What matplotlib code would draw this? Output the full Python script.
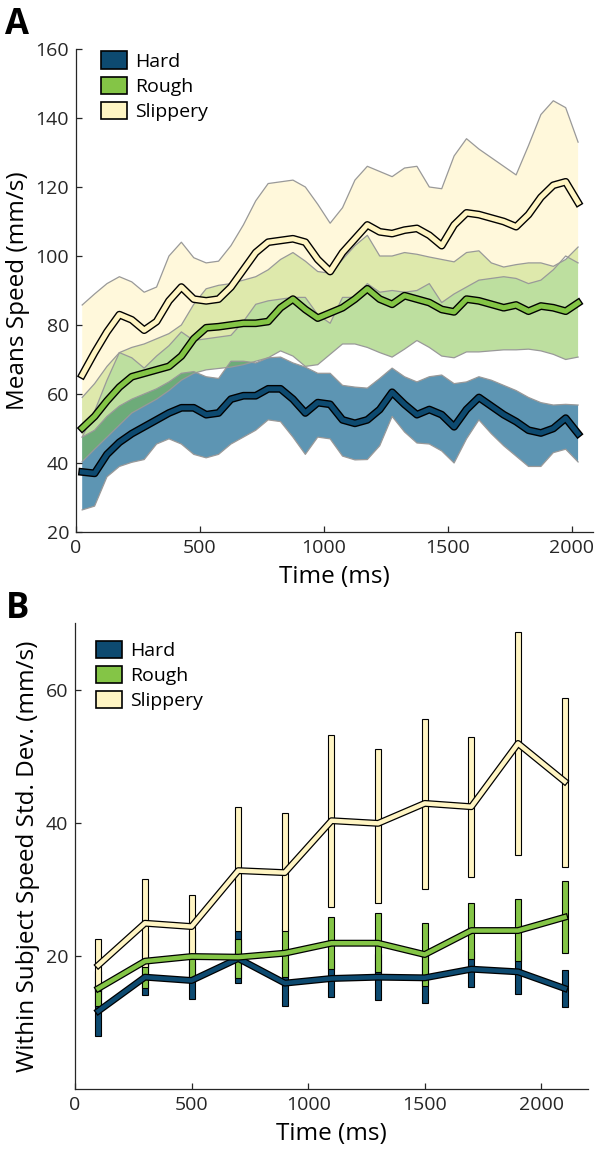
"""Speed per surface: mean speed over time (A) and within-subject SD (B)."""

import matplotlib.pyplot as plt
import matplotlib.patheffects as pe
from matplotlib.patches import Patch

plt.rcParams["font.family"] = ["Open Sans", "DejaVu Sans"]

# ---- panel A: mean speed time courses (mean, band lower, band upper) ----
time_a = [25, 75, 125, 175, 225, 275, 325, 375, 425, 475, 525, 575, 625, 675,
          725, 775, 825, 875, 925, 975, 1025, 1075, 1125, 1175, 1225, 1275,
          1325, 1375, 1425, 1475, 1525, 1575, 1625, 1675, 1725, 1775, 1825,
          1875, 1925, 1975, 2025]

hard_mean = [37.4, 37.0, 42.5, 46.0, 48.5, 50.5, 52.5, 54.5, 56.0, 56.0, 54.0,
             54.5, 58.5, 59.5, 59.5, 61.5, 61.5, 58.5, 54.5, 57.5, 57.0, 52.5,
             51.5, 52.5, 55.5, 60.5, 57.0, 54.0, 55.5, 54.0, 50.5, 55.5, 59.0,
             56.5, 54.0, 52.0, 49.5, 48.7, 50.0, 53.0, 48.5]
hard_lo = [26.4, 27.5, 36.0, 39.0, 40.2, 41.0, 45.5, 47.0, 45.5, 42.5, 41.5,
           42.5, 45.5, 47.5, 49.5, 52.5, 52.0, 47.5, 42.5, 47.5, 47.0, 42.0,
           40.9, 41.0, 45.0, 53.5, 49.0, 45.8, 45.5, 43.5, 40.0, 47.0, 52.5,
           48.5, 45.0, 42.0, 39.0, 39.0, 43.0, 44.0, 40.3]
hard_hi = [47.5, 49.5, 53.5, 56.5, 58.5, 60.0, 61.5, 63.5, 66.0, 66.5, 65.0,
           64.5, 69.5, 69.5, 69.0, 70.5, 70.7, 69.0, 67.8, 66.0, 66.0, 62.5,
           62.0, 61.7, 64.5, 67.5, 65.0, 63.5, 65.0, 65.5, 63.0, 63.5, 65.0,
           64.0, 62.5, 61.0, 59.0, 57.5, 56.8, 57.0, 56.8]

rough_mean = [50.1, 53.5, 58.0, 62.0, 65.0, 66.0, 67.0, 68.0, 71.0, 76.0, 79.2,
              79.5, 80.0, 80.5, 80.5, 81.0, 85.0, 87.5, 84.5, 82.0, 83.5, 85.0,
              87.5, 90.5, 87.5, 86.0, 88.5, 87.5, 86.5, 84.5, 83.8, 87.5, 87.0,
              86.0, 85.0, 85.8, 84.0, 85.5, 85.0, 84.0, 86.4]
rough_lo = [40.4, 44.0, 47.5, 51.0, 54.5, 56.5, 58.5, 61.0, 64.0, 66.0, 67.0,
            67.4, 67.8, 68.5, 69.5, 70.5, 72.5, 71.0, 68.0, 68.5, 71.5, 74.5,
            74.5, 73.5, 72.0, 70.7, 73.0, 75.5, 73.5, 71.0, 70.5, 72.2, 72.2,
            72.5, 72.8, 72.8, 73.0, 72.5, 71.5, 70.0, 70.7]
rough_hi = [59.0, 63.0, 68.0, 72.0, 73.5, 74.5, 76.0, 77.5, 80.0, 86.0, 90.5,
            91.5, 92.0, 93.0, 94.0, 96.0, 99.0, 101.0, 98.5, 95.5, 95.0, 99.0,
            103.0, 106.0, 100.0, 100.0, 101.0, 100.5, 99.7, 99.0, 98.3, 101.0,
            101.5, 98.0, 96.8, 97.5, 98.0, 98.0, 97.0, 99.0, 102.6]

slip_mean = [65.5, 72.0, 78.0, 83.0, 81.5, 78.5, 81.0, 87.0, 91.0, 87.5, 87.0,
             87.5, 91.0, 96.0, 101.0, 104.0, 104.5, 105.0, 104.0, 99.0, 95.5,
             101.0, 105.0, 109.0, 107.0, 106.5, 107.5, 108.0, 106.0, 103.0,
             109.0, 112.5, 112.0, 111.0, 110.0, 108.5, 112.0, 117.0, 120.5,
             121.5, 115.5]
slip_lo = [47.5, 55.0, 64.0, 72.0, 70.5, 67.5, 71.0, 74.0, 78.0, 75.5, 76.0,
           76.5, 77.0, 81.0, 86.0, 87.0, 87.5, 88.0, 88.0, 83.0, 80.5, 88.0,
           88.0, 92.0, 89.5, 90.0, 89.5, 90.0, 92.0, 86.5, 89.0, 91.0, 93.0,
           93.5, 94.0, 93.5, 92.0, 93.0, 96.0, 100.0, 98.0]
slip_hi = [85.8, 89.0, 92.0, 94.0, 92.5, 89.5, 91.0, 100.0, 104.0, 99.5, 98.0,
           98.5, 103.0, 109.0, 116.0, 121.0, 121.5, 122.0, 120.0, 115.0, 109.5,
           114.0, 122.0, 126.0, 124.5, 123.0, 125.5, 126.0, 120.0, 119.5,
           129.0, 134.0, 131.0, 128.5, 126.0, 123.5, 132.0, 141.0, 145.0,
           143.0, 133.0]

# ---- panel B: within-subject SD per 200 ms bin ----
time_b = [100, 300, 500, 700, 900, 1100, 1300, 1500, 1700, 1900, 2100]
sd_hard = [11.7, 16.8, 16.3, 19.6, 15.9, 16.6, 16.8, 16.7, 18.0, 17.6, 15.1]
sd_hard_lo = [7.9, 14.1, 13.5, 15.9, 12.4, 13.8, 13.3, 12.9, 15.3, 14.3, 12.3]
sd_hard_hi = [15.5, 19.5, 19.1, 23.7, 19.4, 19.4, 20.3, 20.5, 20.7, 20.9, 17.9]
sd_rough = [15.1, 19.2, 19.9, 19.8, 20.4, 21.9, 21.9, 20.2, 23.8, 23.8, 25.8]
sd_rough_lo = [12.4, 15.1, 16.0, 16.6, 16.8, 18.0, 17.5, 15.4, 19.5, 19.3, 20.4]
sd_rough_hi = [17.8, 23.3, 23.8, 22.6, 24.0, 25.8, 26.4, 25.0, 28.0, 28.6, 31.2]
sd_slip = [18.6, 24.9, 24.4, 32.8, 32.5, 40.3, 39.9, 42.9, 42.4, 51.9, 46.2]
sd_slip_lo = [14.7, 18.3, 19.8, 23.7, 23.8, 27.3, 28.0, 30.0, 31.8, 35.1, 33.3]
sd_slip_hi = [22.5, 31.5, 29.2, 42.3, 41.4, 53.2, 51.1, 55.6, 52.9, 68.7, 58.8]

labels = ["Hard", "Rough", "Slippery"]
line_cols = ["#0d4a70", "#84c546", "#fff5c3"]
band_cols = ["#065c8a", "#7dc141", "#fff3b9"]
band_alpha = [0.65, 0.5, 0.5]
axis_col = "#262626"

fig = plt.figure(figsize=(5.96, 11.53), dpi=100)
ax_a = fig.add_axes([0.1275, 0.5386, 0.8674, 0.4189])
ax_b = fig.add_axes([0.1258, 0.0555, 0.8607, 0.4042])

outline = [pe.Stroke(linewidth=5.6, foreground="black"), pe.Normal()]

# A: bands first (hard, rough, slippery), then mean lines on top
bands = [(hard_lo, hard_hi), (rough_lo, rough_hi), (slip_lo, slip_hi)]
for (lo, hi), c, a in zip(bands, band_cols, band_alpha):
    ax_a.fill_between(time_a, lo, hi, facecolor=c, alpha=a, edgecolor="none")
for lo, hi in bands:
    ax_a.plot(time_a, lo, color="#999999", lw=0.9)
    ax_a.plot(time_a, hi, color="#999999", lw=0.9)
for m, c in zip([hard_mean, rough_mean, slip_mean], line_cols):
    ax_a.plot(time_a, m, color=c, lw=3.6, path_effects=outline)

ax_a.set_xlim(0, 2085)
ax_a.set_ylim(20, 160)
ax_a.set_xticks([0, 500, 1000, 1500, 2000])
ax_a.set_yticks(range(20, 161, 20))
ax_a.set_xlabel("Time (ms)", fontsize=17.5, labelpad=6)
ax_a.set_ylabel("Means Speed (mm/s)", fontsize=17.5, labelpad=4)

# B: error bars as boxes, then the line through the means
series_b = [(sd_hard, sd_hard_lo, sd_hard_hi),
            (sd_rough, sd_rough_lo, sd_rough_hi),
            (sd_slip, sd_slip_lo, sd_slip_hi)]
for (m, lo, hi), c in zip(series_b, line_cols):
    ax_b.bar(time_b, [h - l for h, l in zip(hi, lo)], bottom=lo, width=26,
             color=c, edgecolor="black", linewidth=0.8)
    ax_b.plot(time_b, m, color=c, lw=3.2,
              path_effects=[pe.Stroke(linewidth=5.0, foreground="black"), pe.Normal()])

ax_b.set_xlim(0, 2200)
ax_b.set_ylim(0, 70)
ax_b.set_xticks([0, 500, 1000, 1500, 2000])
ax_b.set_yticks([20, 40, 60])
ax_b.set_xlabel("Time (ms)", fontsize=17.5, labelpad=6)
ax_b.set_ylabel("Within Subject Speed Std. Dev. (mm/s)", fontsize=17.5, labelpad=4)

for ax in (ax_a, ax_b):
    for side in ("top", "right"):
        ax.spines[side].set_visible(False)
    for side in ("left", "bottom"):
        ax.spines[side].set_color(axis_col)
        ax.spines[side].set_linewidth(0.9)
    ax.tick_params(direction="in", length=4, width=0.9, colors=axis_col,
                   labelsize=14, pad=5)

handles = [Patch(facecolor=c, edgecolor="black", linewidth=1.2, label=l)
           for c, l in zip(line_cols, labels)]
leg_kw = dict(frameon=False, loc="upper left", fontsize=14, handlelength=1.35,
              handleheight=1.0, handletextpad=0.4, labelspacing=0.3,
              borderpad=0, borderaxespad=0)
ax_a.legend(handles=handles, bbox_to_anchor=(0.048, 0.995), **leg_kw)
ax_b.legend(handles=handles, bbox_to_anchor=(0.041, 0.962), **leg_kw)

fig.text(0.008, 0.994, "A", fontsize=25, fontweight="bold", va="top")
fig.text(0.010, 0.487, "B", fontsize=25, fontweight="bold", va="top")

fig.savefig("out.png", dpi=100)
